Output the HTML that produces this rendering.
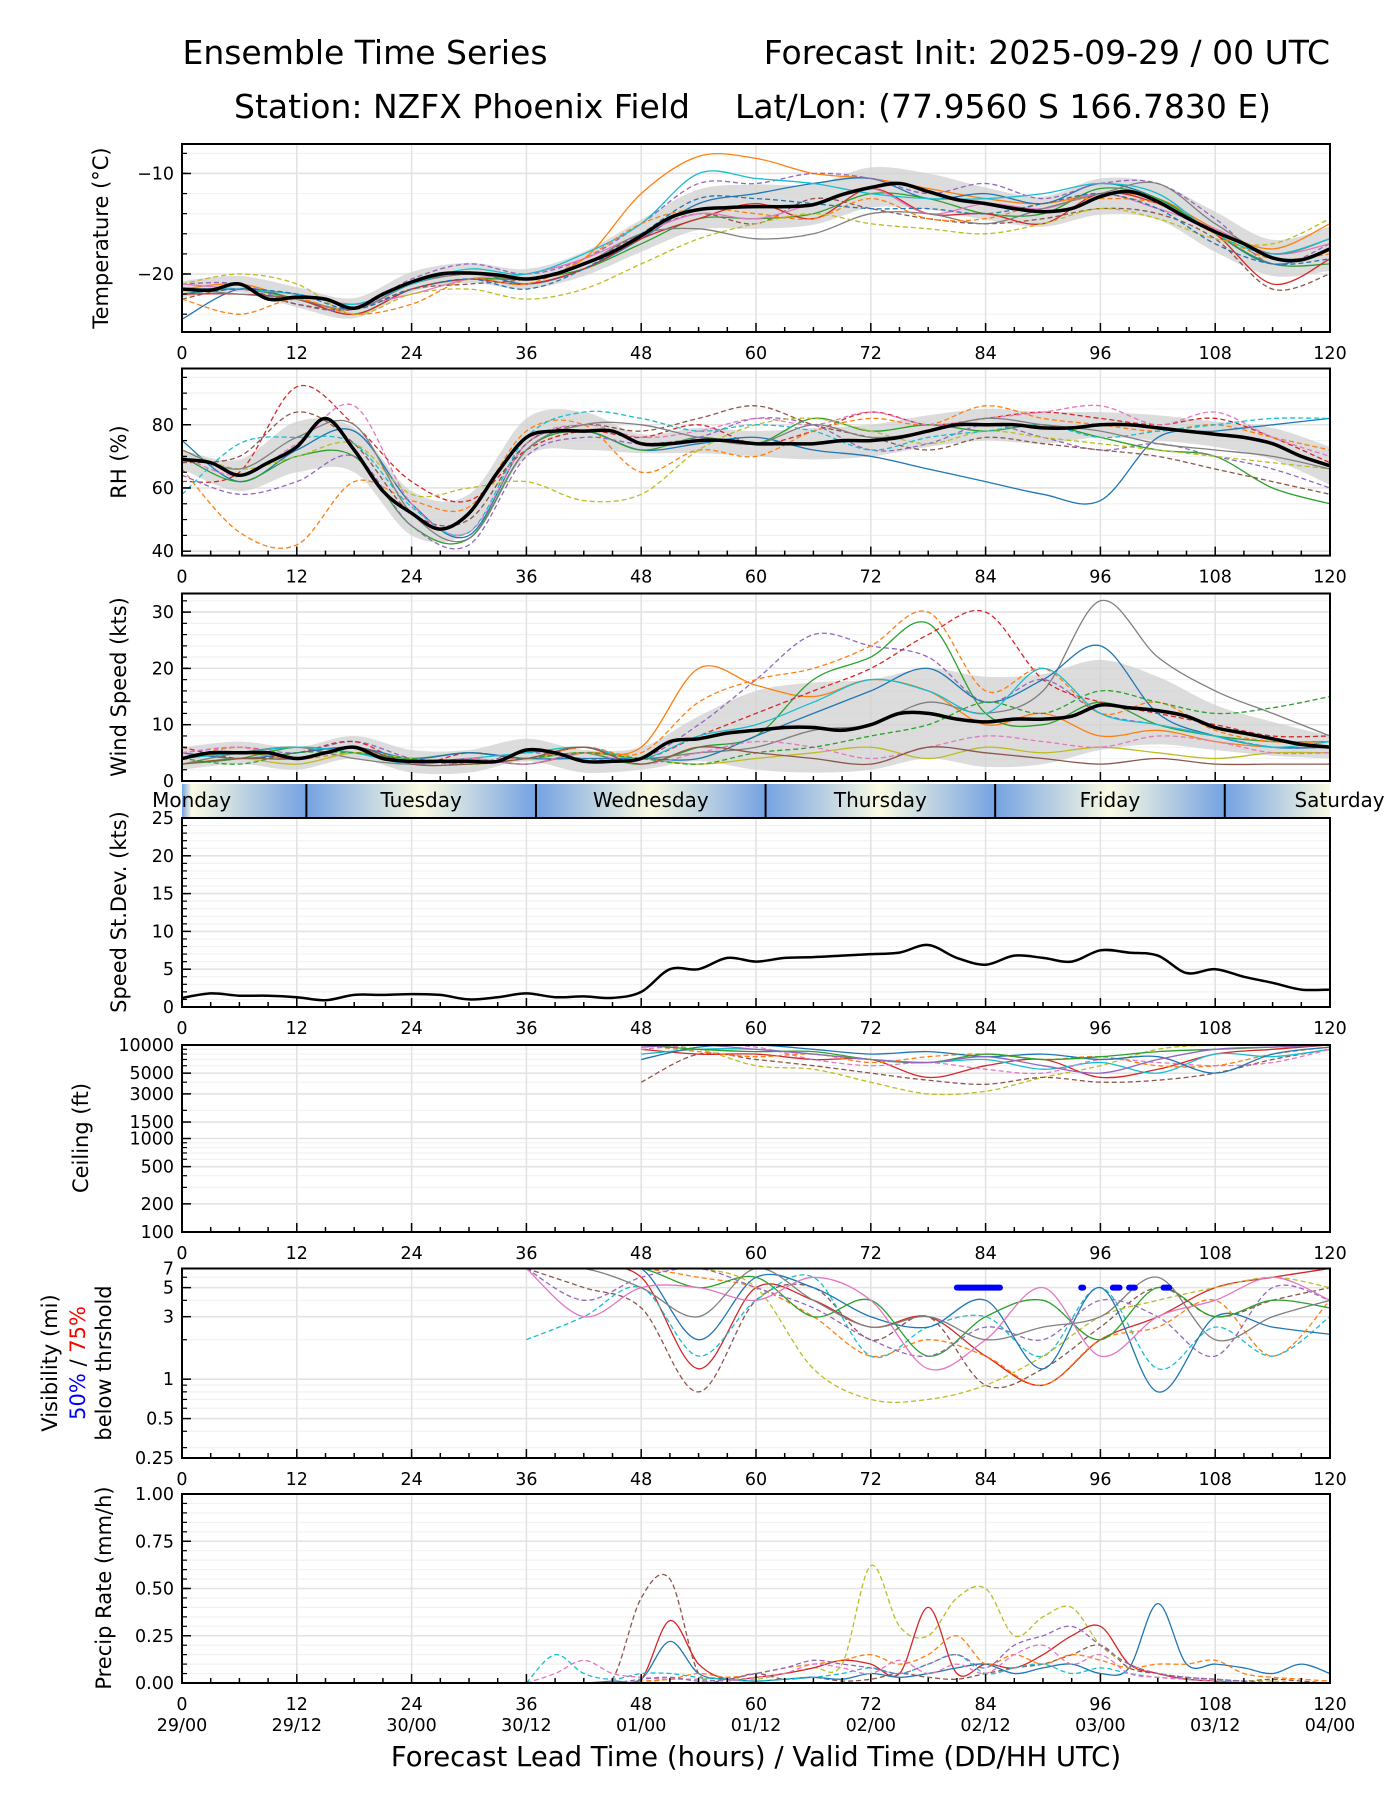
<!DOCTYPE html>
<html><head><meta charset="utf-8">
<style>
html,body{margin:0;padding:0;background:#fff;}
svg{display:block;font-family:"DejaVu Sans","Liberation Sans",sans-serif;}
</style></head>
<body>
<svg id="fig" width="1400" height="1800" viewBox="0 0 1400 1800" xmlns="http://www.w3.org/2000/svg">
<defs>
<linearGradient id="dayGrad" gradientUnits="userSpaceOnUse" x1="182" y1="0" x2="1330" y2="0"></linearGradient>
</defs>
<text x="365" y="64" font-size="33" text-anchor="middle">Ensemble Time Series</text>
<text x="1330" y="64" font-size="33" text-anchor="end">Forecast Init: 2025-09-29 / 00 UTC</text>
<text x="462" y="118" font-size="33" text-anchor="middle">Station: NZFX Phoenix Field</text>
<text x="1003" y="118" font-size="33" text-anchor="middle">Lat/Lon: (77.9560 S 166.7830 E)</text>
<text x="756" y="1766" font-size="27.5" text-anchor="middle">Forecast Lead Time (hours) / Valid Time (DD/HH UTC)</text>
<g id="root"></g>
</svg>
<script>
// ---------- data ----------
const hours3 = [0,3,6,9,12,15,18,21,24,27,30,33,36,39,42,45,48,51,54,57,60,63,66,69,72,75,78,81,84,87,90,93,96,99,102,105,108,111,114,117,120];
const hours6 = [0,6,12,18,24,30,36,42,48,54,60,66,72,78,84,90,96,102,108,114,120];
const xTicks = [0,12,24,36,48,60,72,84,96,108,120];
const dateLabels = ["29/00","29/12","30/00","30/12","01/00","01/12","02/00","02/12","03/00","03/12","04/00"];

const tempMean = [-21.5,-21.6,-21,-22.5,-22.3,-22.5,-23.4,-22,-20.8,-20,-19.9,-20.1,-20.5,-20,-19,-17.8,-16.2,-14.4,-13.6,-13.4,-13.3,-13.3,-13.1,-12.1,-11.4,-11,-11.8,-12.6,-13,-13.5,-13.8,-13.5,-12.3,-11.8,-12.8,-14.4,-15.8,-17,-18.4,-18.6,-17.5];
const tempSpread = [0.8,0.8,1,1,1,1,1,1.2,1.6,2,2.2,2,2,1.8,1.6,1.5,1.8,1.8,2,1.8,2.2];
const tempM1 = [-21.5,-21,-22.5,-23.5,-21,-20,-20.5,-18.5,-12,-8.3,-8.5,-10,-10.5,-11.5,-12.5,-13,-12,-12.5,-15.5,-17.5,-15];
const tempM2 = [-24.5,-21.5,-22.5,-23.5,-21,-19.8,-21,-19.5,-16.5,-13,-12,-11,-10.5,-12.5,-12,-13,-11,-12.5,-16,-19,-17.5];
const tempM3 = [-22,-21.5,-22.5,-24,-21.5,-20.5,-20.5,-19.5,-17,-14.5,-14.5,-14,-12,-12.5,-14,-14,-11.5,-12.5,-16,-19,-19];
const tempM4 = [-22,-22,-22.5,-24,-21.5,-20.5,-21,-19.5,-16.5,-14.5,-13,-14.5,-11.5,-14,-14,-15,-12,-13,-16,-21,-18.5];
const tempM5 = [-21,-21,-23,-23.5,-20.5,-19,-20,-18.5,-15,-11,-11,-10,-10.5,-12,-11,-12.5,-11,-11,-14.5,-19,-17];
const tempM6 = [-22.5,-21.5,-23,-23.5,-21.5,-21,-20.5,-19,-16,-14,-15,-12.5,-13.5,-14.5,-15,-14.5,-13.5,-14,-16.5,-21.5,-20];
const tempM7 = [-21,-21.5,-22,-23,-22,-20.5,-20,-18.5,-16,-14,-14.5,-13,-11.5,-14,-13,-13.5,-12,-13.5,-15.5,-18,-17];
const tempM8 = [-21.5,-22,-22.5,-23.5,-21,-20,-20.5,-19,-16,-15.5,-16.5,-16,-14,-14,-15,-13.5,-12,-11,-15,-18,-16.5];
const tempM9 = [-21,-20,-21,-24,-22,-21.5,-22.5,-21.5,-19,-16.5,-15,-14,-15,-15.5,-16,-15,-13.5,-14.5,-16.5,-17,-14.5];
const tempM10 = [-21.5,-21.5,-22,-23,-21,-19.5,-20,-18,-15,-10,-10.5,-11,-12,-12.5,-12.5,-12,-11,-12,-16,-18,-16.5];
const tempM11 = [-22.5,-24,-22.5,-24,-23,-20.5,-21,-18.5,-15,-13.5,-14,-14.5,-12.5,-14.5,-14.5,-13,-12.5,-13,-16,-18.5,-18];
const tempM12 = [-22,-21.5,-22,-23.5,-21.5,-20.5,-21.5,-19.5,-16,-12.5,-12.5,-13,-13.5,-13.5,-14,-13,-12,-13.5,-17,-19,-18.5];

const rhMean = [69,68,64,68,73,82,72,59,52,47,52,65,76,78,78,78,74,74,75,75,74,74,74,75,75,76,78,80,80,80,79,79,80,80,79,78,77,76,74,70,67];
const rhSpread = [3,5,8,7,7,6,6,6,3,4,4,5,5,5,5,5,4,4,4,5,6];
const rhM1 = [62,65,92,80,62,56,72,78,76,80,74,78,84,80,82,84,82,80,82,76,68];
const rhM2 = [66,46,42,62,56,54,78,80,65,72,70,78,82,80,86,82,80,78,80,76,72];
const rhM3 = [75,62,72,78,55,45,74,78,72,74,76,72,70,66,62,58,56,76,78,80,82];
const rhM4 = [70,62,70,70,48,44,72,78,72,76,74,82,78,80,78,80,76,72,70,60,55];
const rhM5 = [64,58,62,70,48,42,70,76,74,76,82,80,72,74,80,76,72,74,70,66,60];
const rhM6 = [68,70,84,74,52,50,74,80,78,82,86,80,76,72,76,74,72,70,66,62,58];
const rhM7 = [72,66,70,74,58,60,62,56,58,72,80,82,78,74,78,76,74,72,70,68,66];
const rhM8 = [58,74,76,74,54,46,76,84,82,78,80,78,72,76,78,80,76,78,80,82,82];
const rhM9 = [70,64,74,86,55,46,74,80,76,78,82,80,84,80,82,84,86,80,84,76,70];
const rhM10 = [72,66,76,80,52,44,72,80,80,76,74,80,76,78,82,80,78,74,72,70,66];

const windMean = [4,5,5,5,4,5,6,4,3.5,3.5,3.5,3.5,5.5,5,3.5,3.5,4,7,7.5,8.5,9,9.5,9.5,9,10,12,12,11,10.5,11,11,11.5,13.5,13,12.5,11.5,9.5,8.5,7.5,6.5,6];
const windSpread = [2,2,2,2,2,2,2,2,2,4,7,8,8,8,8,8,8,6,4,3,2];
const windM1 = [4,5,4,6,3,4,3,5,6,20,17,15,18,16,10,12,8,9,7,6,6];
const windM2 = [5,6,5,7,4,3,5,4,4,10,18,26,24,22,14,18,12,10,8,6,6];
const windM3 = [3,4,6,5,4,5,4,5,3,6,8,18,22,28,12,10,14,10,8,7,7];
const windM4 = [6,4,5,7,3,5,4,6,4,8,12,16,20,26,30,18,14,12,10,8,8];
const windM5 = [4,6,4,5,4,3,4,6,5,14,18,20,24,30,16,20,12,14,9,7,7];
const windM6 = [3,5,6,4,3,4,3,5,4,5,6,9,10,14,12,16,32,22,16,12,8];
const windM7 = [5,4,5,6,4,5,4,4,4,4,8,12,16,20,14,18,24,12,8,6,6];
const windM8 = [4,5,6,5,3,4,5,6,4,8,10,14,18,16,12,20,12,10,8,6,7];
const windM9 = [3,4,3,5,4,3,4,5,4,3,4,5,6,4,6,5,6,5,4,5,5];
const windM10 = [5,6,4,6,3,4,3,5,3,5,7,6,4,6,8,7,6,8,7,5,5];
const windM11 = [4,3,5,5,4,3,4,5,4,3,5,6,8,10,14,12,16,14,12,13,15];
const windM12 = [3,4,4,6,3,3,4,6,3,6,5,4,3,6,5,4,3,4,3,3,3];

const sdVals = [1.2,1.8,1.5,1.5,1.3,0.9,1.6,1.6,1.7,1.6,1,1.3,1.8,1.3,1.4,1.2,2,5,5,6.5,6,6.5,6.6,6.8,7,7.2,8.2,6.5,5.6,6.8,6.5,6,7.5,7.2,6.8,4.5,5,4,3.2,2.3,2.3];

const ceilHours = [48,54,60,66,72,78,84,90,96,102,108,114,120];
const ceilM1 = [10000,9000,6000,5500,4000,3000,3200,4500,6000,9000,10000,10000,10000];
const ceilM2 = [4000,8000,7000,6000,5000,4200,3800,4500,4000,4200,5000,7000,9000];
const ceilM3 = [9000,8000,8000,7000,7000,4500,6000,7000,4500,5500,8000,9000,10000];
const ceilM4 = [8000,9000,9000,8000,7000,6500,7000,5500,6500,5000,8000,7500,9000];
const ceilM5 = [10000,8500,7500,8000,6500,7500,8000,7000,7500,6000,6000,8000,9500];
const ceilM6 = [9000,10000,9500,7000,6000,6500,5500,5000,7000,6500,6000,6500,9000];
const ceilM7 = [7000,9500,10000,9000,8000,8500,7500,8000,7000,7500,5000,8000,9500];
const ceilM8 = [10000,9000,8500,8500,7000,6500,8000,7000,7500,8500,9000,9500,10000];
const ceilM9 = [9500,10000,9000,8000,7000,6500,7500,6000,5000,7000,9000,9500,10000];

const visHours = [36,42,48,54,60,66,72,78,84,90,96,102,108,114,120];
const visM1 = [7,7,6,1.2,5,4,2.5,3,1.5,0.9,2,3,5,6,7];
const visM2 = [7,5,3.5,0.8,4,5,2,3,0.9,1.2,2.5,5,3,4,5];
const visM3 = [2,3,5,1.5,4,6,1.5,2.5,3,1.5,5,1.2,2.5,1.5,3];
const visM4 = [7,7,7,7,5,1.2,0.7,0.7,0.9,1.5,3,4,5,6,5];
const visM5 = [7,7,7,2,6,5,3,2.5,4,1.2,5,0.8,3,2.5,2.2];
const visM6 = [7,7,7,6,5,3,1.5,2,1.5,0.9,2,2.5,4,1.5,4];
const visM7 = [7,7,7,5,6,3,4,1.5,3,4,2,5,3,4,3.5];
const visM8 = [7,4,6,7,5,3.5,2,1.5,2.5,2,4,3,1.5,5,4];
const visM9 = [7,3,5,5,4,6,4,1.2,2,5,1.5,3,4,6,4];
const visM10 = [7,7,5,3,7,4,2.5,3,2,2.5,3,6,2,3,4];
const visFlagStart = [81,94,97.3,99,102.6];
const visFlagEnd = [85.5,94.2,98,99.6,103.2];
const visFlagLevel = 5;

const precipHours = [36,39,42,45,48,51,54,57,60,63,66,69,72,75,78,81,84,87,90,93,96,99,102,105,108,111,114,117,120];
const precipM1 = [0,0,0,0.02,0.45,0.55,0.05,0.02,0.05,0.02,0.03,0.01,0.02,0.05,0.03,0.02,0.05,0.08,0.1,0.15,0.2,0.08,0.05,0.03,0.02,0.01,0.02,0.01,0];
const precipM2 = [0,0,0,0,0,0.02,0.02,0.03,0.02,0.05,0.08,0.1,0.62,0.3,0.25,0.45,0.5,0.25,0.35,0.4,0.2,0.1,0.05,0.03,0.02,0.01,0.01,0,0];
const precipM3 = [0,0,0,0,0.02,0.33,0.1,0.02,0.03,0.05,0.08,0.12,0.1,0.05,0.4,0.05,0.1,0.08,0.15,0.25,0.3,0.1,0.05,0.02,0.01,0,0,0,0];
const precipM4 = [0,0,0,0.01,0.02,0.22,0.05,0.02,0.01,0.02,0.03,0.02,0.05,0.03,0.05,0.08,0.1,0.05,0.08,0.1,0.05,0.08,0.42,0.1,0.1,0.08,0.05,0.1,0.05];
const precipM5 = [0,0,0,0,0.01,0.02,0.05,0.03,0.05,0.08,0.1,0.12,0.15,0.1,0.15,0.25,0.1,0.15,0.1,0.15,0.12,0.08,0.1,0.1,0.12,0.05,0.03,0.02,0.01];
const precipM6 = [0,0.15,0.05,0.02,0.05,0.05,0.03,0.02,0.01,0.02,0.03,0.05,0.08,0.05,0.1,0.15,0.05,0.08,0.1,0.05,0.08,0.05,0.03,0.02,0.01,0.01,0,0,0];
const precipM7 = [0,0.05,0.12,0.05,0.03,0.02,0.02,0.01,0.03,0.05,0.1,0.08,0.05,0.12,0.05,0.1,0.05,0.15,0.2,0.1,0.15,0.05,0.03,0.02,0.01,0,0,0,0];
const precipM8 = [0,0,0,0,0.02,0.03,0.01,0.02,0.05,0.08,0.12,0.1,0.08,0.05,0.1,0.15,0.08,0.2,0.25,0.3,0.2,0.1,0.05,0.03,0.02,0.01,0,0,0];

const dayNames = ["Monday","Tuesday","Wednesday","Thursday","Friday","Saturday"];
const dayBoundaries = [13,37,61,85,109];

// ---------- helpers ----------
const NS = "http://www.w3.org/2000/svg";
const root = document.getElementById("root");
const X0 = 182, X1 = 1330;
const TICKFS = 17.5, LABFS = 21;
const xs = h => X0 + h * (X1 - X0) / 120;
const pal = {blue:"#1f77b4",orange:"#ff7f0e",green:"#2ca02c",red:"#d62728",purple:"#9467bd",brown:"#8c564b",pink:"#e377c2",gray:"#7f7f7f",olive:"#bcbd22",cyan:"#17becf"};
function mk(tag, attrs, parent) {
  const e = document.createElementNS(NS, tag);
  for (const k in attrs) e.setAttribute(k, attrs[k]);
  (parent || root).appendChild(e);
  return e;
}
function smoothPath(pts) {
  if (pts.length < 2) return "";
  let d = "M" + pts[0][0].toFixed(1) + "," + pts[0][1].toFixed(1);
  for (let i = 0; i < pts.length - 1; i++) {
    const p0 = pts[i-1] || pts[i], p1 = pts[i], p2 = pts[i+1], p3 = pts[i+2] || p2;
    const c1x = p1[0] + (p2[0]-p0[0])/6, c1y = p1[1] + (p2[1]-p0[1])/6;
    const c2x = p2[0] - (p3[0]-p1[0])/6, c2y = p2[1] - (p3[1]-p1[1])/6;
    d += "C" + c1x.toFixed(1) + "," + c1y.toFixed(1) + " " + c2x.toFixed(1) + "," + c2y.toFixed(1) + " " + p2[0].toFixed(1) + "," + p2[1].toFixed(1);
  }
  return d;
}
let clipId = 0;
function panel(name, top, bot, ys, majorTicks, tickLabels, minorTicks, showX) {
  const g = mk("g", {});
  
  
  const cid = "clip" + (clipId++);
  const cp = mk("clipPath", {id: cid}, g);
  mk("rect", {x: X0, y: top, width: X1 - X0, height: bot - top}, cp);
  minorTicks.forEach(v => { const y = ys(v); mk("line", {x1: X0, x2: X1, y1: y, y2: y, stroke: "#f2f2f2", "stroke-width": 1.2}, g); });
  majorTicks.forEach(v => { const y = ys(v); mk("line", {x1: X0, x2: X1, y1: y, y2: y, stroke: "#e3e3e3", "stroke-width": 1.6}, g); });
  xTicks.forEach(h => mk("line", {x1: xs(h), x2: xs(h), y1: top, y2: bot, stroke: "#e3e3e3", "stroke-width": 1.6}, g));
  const data = mk("g", {"clip-path": "url(#" + cid + ")"}, g);
  const axes = mk("g", {}, g);
  for (let h = 0; h <= 120; h += 3) {
    const len = (h % 12 === 0) ? 9 : 5;
    mk("line", {x1: xs(h), x2: xs(h), y1: bot, y2: bot - len, stroke: "#000", "stroke-width": 1.5}, axes);
  }
  majorTicks.forEach((v, i) => {
    const y = ys(v);
    mk("line", {x1: X0, x2: X0 + 9, y1: y, y2: y, stroke: "#000", "stroke-width": 1.5}, axes);
    const t = mk("text", {x: X0 - 8, y: y + 6, "font-size": TICKFS, "text-anchor": "end"}, axes);
    t.textContent = tickLabels[i];
    
    
  });
  minorTicks.forEach(v => { const y = ys(v); mk("line", {x1: X0, x2: X0 + 5, y1: y, y2: y, stroke: "#000", "stroke-width": 1.2}, axes); });
  mk("rect", {x: X0, y: top, width: X1 - X0, height: bot - top, fill: "none", stroke: "#000", "stroke-width": 2}, axes);
  if (showX) {
    xTicks.forEach(h => {
      const t = mk("text", {x: xs(h), y: bot + 27, "font-size": TICKFS, "text-anchor": "middle"}, axes);
      t.textContent = String(h);
      
      
    });
  }
  return data;
}
function members(g, hrs, list, ys, nameBase) {
  list.forEach((m, i) => {
    const pts = [];
    hrs.forEach((h, j) => { if (m.vals[j] !== null) pts.push([xs(h), ys(m.vals[j])]); });
    const p = mk("path", {d: smoothPath(pts), fill: "none", stroke: pal[m.c], "stroke-width": 1.3}, g);
    if (m.dash) p.setAttribute("stroke-dasharray", "5,3");
    
    
  });
}
function band(g, hrsMean, mean, hrsSpread, spread, ys, name) {
  const up = [], lo = [];
  hrsSpread.forEach((h, j) => {
    const k = hrsMean.indexOf(h);
    up.push([xs(h), ys(mean[k] + spread[j])]);
    lo.push([xs(h), ys(mean[k] - spread[j])]);
  });
  const d = smoothPath(up) + "L" + smoothPath(lo.reverse()).slice(1) + "Z";
  const p = mk("path", {d: d, fill: "#d0d0d0", "fill-opacity": 0.75, stroke: "none"}, g);
  
  
}
function meanLine(g, hrs, vals, ys, name, w) {
  const p = mk("path", {d: smoothPath(hrs.map((h, j) => [xs(h), ys(vals[j])])), fill: "none", stroke: "#000", "stroke-width": w, "stroke-linejoin": "round"}, g);
  
  
}
function ylabel(text, x, cy, name) {
  const t = mk("text", {x: x, y: cy, "font-size": LABFS, "text-anchor": "middle", transform: "rotate(-90 " + x + " " + cy + ")"});
  t.textContent = text;
  
  
}
const lin = (top, bot, a, b) => v => bot - (v - a) / (b - a) * (bot - top);
const logs = (top, bot, a, b) => v => bot - (Math.log(v) - Math.log(a)) / (Math.log(b) - Math.log(a)) * (bot - top);
const range = (a, b, s) => { const r = []; for (let v = a; v <= b + 1e-9; v += s) r.push(+v.toFixed(4)); return r; };

// ---------- temperature ----------
{
  const ys = lin(144, 332, -25.77, -7.07);
  const g = panel("temperature", 144, 332, ys, [-10, -20], ["\u221210", "\u221220"], range(-24, -8, 2), true);
  band(g, hours3, tempMean, hours6, tempSpread, ys, "temperature");
  members(g, hours6, [
    {vals: tempM1, c: "orange"}, {vals: tempM2, c: "blue"}, {vals: tempM3, c: "green"}, {vals: tempM4, c: "red"},
    {vals: tempM5, c: "purple", dash: 1}, {vals: tempM6, c: "brown", dash: 1}, {vals: tempM7, c: "pink"}, {vals: tempM8, c: "gray"},
    {vals: tempM9, c: "olive", dash: 1}, {vals: tempM10, c: "cyan"}, {vals: tempM11, c: "orange", dash: 1}, {vals: tempM12, c: "blue", dash: 1}
  ], ys, "temperature");
  meanLine(g, hours3, tempMean, ys, "temperature-mean-line", 3.5);
  ylabel("Temperature (\u00b0C)", 108, 238, "temperature-y-axis-title");
}
// ---------- RH ----------
{
  const ys = lin(368.5, 555.6, 38.6, 97.8);
  const g = panel("rh", 368.5, 555.6, ys, [40, 60, 80], ["40", "60", "80"], range(45, 95, 5), true);
  band(g, hours3, rhMean, hours6, rhSpread, ys, "rh");
  members(g, hours6, [
    {vals: rhM1, c: "red", dash: 1}, {vals: rhM2, c: "orange", dash: 1}, {vals: rhM3, c: "blue"}, {vals: rhM4, c: "green"},
    {vals: rhM5, c: "purple", dash: 1}, {vals: rhM6, c: "brown", dash: 1}, {vals: rhM7, c: "olive", dash: 1}, {vals: rhM8, c: "cyan", dash: 1},
    {vals: rhM9, c: "pink", dash: 1}, {vals: rhM10, c: "gray"}
  ], ys, "rh");
  meanLine(g, hours3, rhMean, ys, "rh-mean-line", 3.5);
  ylabel("RH (%)", 126, 462, "rh-y-axis-title");
}
// ---------- Wind ----------
{
  const ys = lin(593.5, 781, 0, 33.3);
  const g = panel("wind", 593.5, 781, ys, [0, 10, 20, 30], ["0", "10", "20", "30"], range(2, 32, 2), false);
  band(g, hours3, windMean, hours6, windSpread, ys, "wind");
  members(g, hours6, [
    {vals: windM1, c: "orange"}, {vals: windM2, c: "purple", dash: 1}, {vals: windM3, c: "green"}, {vals: windM4, c: "red", dash: 1},
    {vals: windM5, c: "orange", dash: 1}, {vals: windM6, c: "gray"}, {vals: windM7, c: "blue"}, {vals: windM8, c: "cyan"},
    {vals: windM9, c: "olive"}, {vals: windM10, c: "pink", dash: 1}, {vals: windM11, c: "green", dash: 1}, {vals: windM12, c: "brown"}
  ], ys, "wind");
  meanLine(g, hours3, windMean, ys, "wind-mean-line", 3.5);
  ylabel("Wind Speed (kts)", 126, 687, "wind-y-axis-title");
}
// ---------- day band ----------
{
  const grad = document.getElementById("dayGrad");
  const stops = [];
  for (let h = -11; h <= 133; h += 12) stops.push(h);
  stops.forEach(h => {
    const off = (h / 120);
    const isNoon = ((h - 1) % 24 === 0);
    const s = document.createElementNS(NS, "stop");
    s.setAttribute("offset", Math.max(0, Math.min(1, off)));
    s.setAttribute("stop-color", isNoon ? "#fbfbe2" : "#74a2e2");
    grad.appendChild(s);
  });
  const g = mk("g", {});
  
  
  mk("rect", {x: X0, y: 784, width: X1 - X0, height: 33, fill: "url(#dayGrad)"}, g);
  dayBoundaries.forEach(h => mk("line", {x1: xs(h), x2: xs(h), y1: 784, y2: 817, stroke: "#000", "stroke-width": 2}, g));
  dayNames.forEach((n, i) => {
    const t = mk("text", {x: xs(1 + 24 * i), y: 807, "font-size": 20, "text-anchor": "middle"}, g);
    t.textContent = n;
    
    
  });
}
// ---------- StDev ----------
{
  const ys = lin(818, 1007, 0, 25);
  const g = panel("stdev", 818, 1007, ys, [0, 5, 10, 15, 20, 25], ["0", "5", "10", "15", "20", "25"], range(1, 24, 1), true);
  meanLine(g, hours3, sdVals, ys, "stdev-line", 2.5);
  ylabel("Speed St.Dev. (kts)", 126, 912, "stdev-y-axis-title");
}
// ---------- Ceiling ----------
{
  const ys = logs(1045, 1232, 100, 10000);
  const maj = [100, 200, 500, 1000, 1500, 3000, 5000, 10000];
  const minor = [300,400,600,700,800,900,2000,4000,6000,7000,8000,9000];
  const g = panel("ceiling", 1045, 1232, ys, maj, maj.map(String), minor, true);
  members(g, ceilHours, [
    {vals: ceilM1, c: "olive", dash: 1}, {vals: ceilM2, c: "brown", dash: 1}, {vals: ceilM3, c: "red"}, {vals: ceilM4, c: "cyan"},
    {vals: ceilM5, c: "orange", dash: 1}, {vals: ceilM6, c: "pink", dash: 1}, {vals: ceilM7, c: "blue"}, {vals: ceilM8, c: "green"},
    {vals: ceilM9, c: "purple"}
  ], ys, "ceiling");
  ylabel("Ceiling (ft)", 88, 1138, "ceiling-y-axis-title");
}
// ---------- Visibility ----------
{
  const ys = logs(1268.5, 1458, 0.25, 7);
  const maj = [0.25, 0.5, 1, 3, 5, 7];
  const g = panel("visibility", 1268.5, 1458, ys, maj, ["0.25", "0.5", "1", "3", "5", "7"], [0.3,0.4,0.6,0.7,0.8,0.9,2,4,6], true);
  members(g, visHours, [
    {vals: visM1, c: "red"}, {vals: visM2, c: "brown", dash: 1}, {vals: visM3, c: "cyan", dash: 1}, {vals: visM4, c: "olive", dash: 1},
    {vals: visM5, c: "blue"}, {vals: visM6, c: "orange", dash: 1}, {vals: visM7, c: "green"}, {vals: visM8, c: "purple", dash: 1},
    {vals: visM9, c: "pink"}, {vals: visM10, c: "gray"}
  ], ys, "visibility");
  visFlagStart.forEach((s, i) => {
    const l = mk("line", {x1: xs(s), x2: xs(visFlagEnd[i]), y1: ys(visFlagLevel), y2: ys(visFlagLevel), stroke: "#0000ff", "stroke-width": 6, "stroke-linecap": "round"}, g);
    
    
  });
  const t = mk("text", {x: 0, y: 0, "font-size": LABFS, "text-anchor": "middle", transform: "translate(57 1363) rotate(-90)"});
  t.textContent = "Visibility (mi)";
  
  
  const t2 = mk("text", {x: 0, y: 0, "font-size": LABFS, "text-anchor": "middle", transform: "translate(85 1363) rotate(-90)"});
  
  
  const a = mk("tspan", {fill: "#0000ff"}, t2); a.textContent = "50%";
  const b = mk("tspan", {fill: "#000"}, t2); b.textContent = " / ";
  const c = mk("tspan", {fill: "#ff0000"}, t2); c.textContent = "75%";
  const t3 = mk("text", {x: 0, y: 0, "font-size": LABFS, "text-anchor": "middle", transform: "translate(111 1363) rotate(-90)"});
  t3.textContent = "below thrshold";
  
  
}
// ---------- Precip ----------
{
  const ys = lin(1494, 1683, 0, 1);
  const g = panel("precip", 1494, 1683, ys, [0, 0.25, 0.5, 0.75, 1], ["0.00", "0.25", "0.50", "0.75", "1.00"], range(0.05, 0.95, 0.05), true);
  members(g, precipHours, [
    {vals: precipM1, c: "brown", dash: 1}, {vals: precipM2, c: "olive", dash: 1}, {vals: precipM3, c: "red"}, {vals: precipM4, c: "blue"},
    {vals: precipM5, c: "orange", dash: 1}, {vals: precipM6, c: "cyan", dash: 1}, {vals: precipM7, c: "pink", dash: 1}, {vals: precipM8, c: "purple", dash: 1}
  ], v => ys(Math.max(0, v)), "precip");
  xTicks.forEach((h, i) => {
    const t = mk("text", {x: xs(h), y: 1731, "font-size": TICKFS, "text-anchor": "middle"});
    t.textContent = dateLabels[i];
    
    
  });
  ylabel("Precip Rate (mm/h)", 111, 1588, "precip-y-axis-title");
}
</script>
</body></html>
